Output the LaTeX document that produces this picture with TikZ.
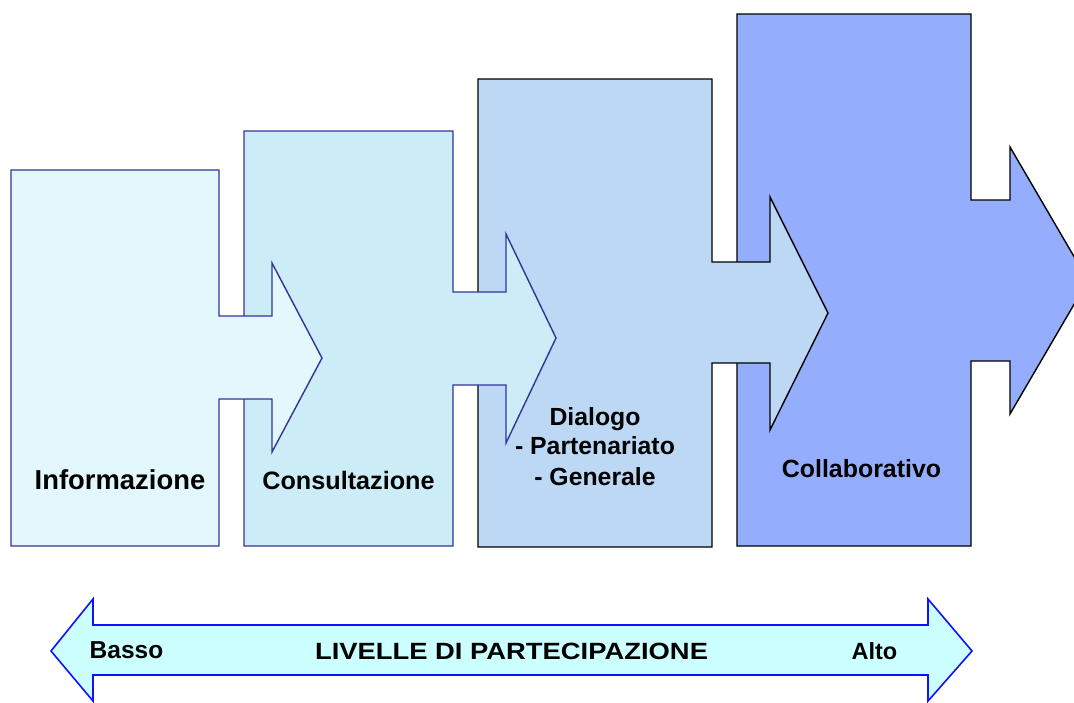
\documentclass[tikz,border=0pt]{standalone}
\usepackage{fontspec}
\setmainfont{Liberation Sans}
\definecolor{fillA}{HTML}{E3F8FC}
\definecolor{fillB}{HTML}{CCEDF7}
\definecolor{fillC}{HTML}{BDD8F5}
\definecolor{fillD}{HTML}{94AEFD}
\definecolor{edgeBlue}{HTML}{333399}
\definecolor{barFill}{HTML}{CCFFFF}
\definecolor{barEdge}{HTML}{1010FF}
\tikzset{
  stage/.style={line width=1.4pt, line join=miter},
  lbl/.style={font=\bfseries\fontsize{25}{30}\selectfont, anchor=base, inner sep=0pt, text=black},
  barlbl/.style={font=\bfseries\fontsize{23.5}{28}\selectfont, anchor=base, inner sep=0pt, text=black}
}
\begin{document}
\begin{tikzpicture}[x=1pt, y=-1pt]
\useasboundingbox (0,0) rectangle (1074,702);
\clip (0,0) rectangle (1074,702);
% stage 4
\draw[stage, fill=fillD, draw=black]
  (737,14) -- (971,14) -- (971,200) -- (1010,200) -- (1010,147) -- (1088,280.5)
  -- (1010,414) -- (1010,361) -- (971,361) -- (971,546) -- (737,546) -- cycle;
% stage 3
\draw[stage, fill=fillC, draw=black]
  (478,79) -- (712,79) -- (712,262) -- (770,262) -- (770,197) -- (828,313)
  -- (770,430) -- (770,363) -- (712,363) -- (712,547) -- (478,547) -- cycle;
% stage 2
\draw[stage, fill=fillB, draw=edgeBlue]
  (244,131) -- (453,131) -- (453,292) -- (506,292) -- (506,234) -- (556,338)
  -- (506,443) -- (506,385) -- (453,385) -- (453,546) -- (244,546) -- cycle;
% stage 1
\draw[stage, fill=fillA, draw=edgeBlue]
  (11,170) -- (219,170) -- (219,316) -- (272,316) -- (272,263) -- (322,358)
  -- (272,452) -- (272,399) -- (219,399) -- (219,546) -- (11,546) -- cycle;
% labels
\node[lbl, font=\bfseries\fontsize{27.4}{32}\selectfont] (info) at (120,489) {Informazione};
\node[lbl, font=\bfseries\fontsize{25.2}{30}\selectfont] (cons) at (348.5,489) {Consultazione};
\node[lbl, font=\bfseries\fontsize{24.8}{30}\selectfont] (dia1) at (595,425) {Dialogo};
\node[lbl, font=\bfseries\fontsize{24.8}{30}\selectfont] (dia2) at (595,454) {- Partenariato};
\node[lbl, font=\bfseries\fontsize{24.8}{30}\selectfont] (dia3) at (595,485) {- Generale};
\node[lbl, font=\bfseries\fontsize{24.9}{30}\selectfont] (coll) at (861.5,477) {Collaborativo};
% level bar
\draw[line width=1.6pt, fill=barFill, draw=barEdge, line join=miter]
  (51,651) -- (93,599) -- (93,625) -- (928,625) -- (928,599) -- (972,651)
  -- (928,701) -- (928,675) -- (93,675) -- (93,701) -- cycle;
\node[barlbl, font=\bfseries\fontsize{24.5}{29}\selectfont] (basso) at (126.5,658) {Basso};
\node[barlbl] (alto) at (874.5,659) {Alto};
\node[barlbl] (livello) at (511.5,659) {\scalebox{1.165}[1]{LIVELLE DI PARTECIPAZIONE}};
\end{tikzpicture}
\end{document}
